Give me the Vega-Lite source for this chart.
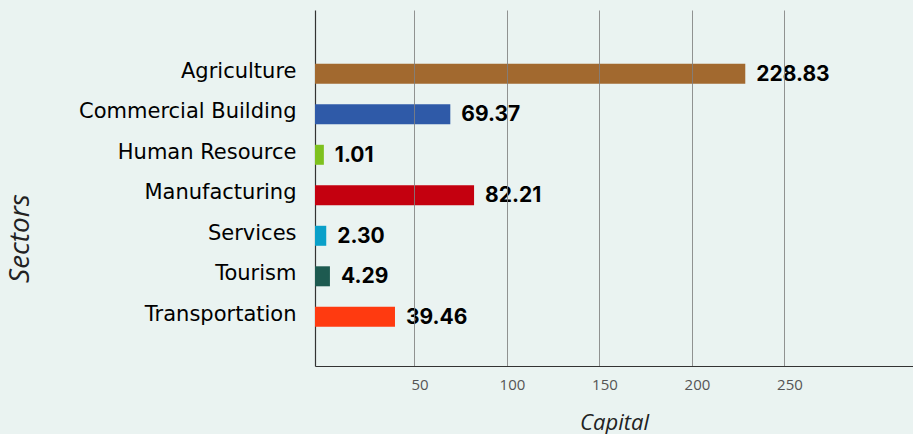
{
  "$schema": "https://vega.github.io/schema/vega-lite/v6.json",
  "autosize": "none",
  "width": 598,
  "height": 356,
  "padding": {"left": 315, "top": 10, "right": 0, "bottom": 68},
  "background": "#EAF3F1",
  "config": {
    "view": {"stroke": null},
    "font": "DejaVu Sans"
  },
  "data": {
    "values": [
      {"sector": "Agriculture", "capital": 228.83, "label": "228.83"},
      {"sector": "Commercial Building", "capital": 69.37, "label": "69.37"},
      {"sector": "Human Resource", "capital": 1.01, "label": "1.01"},
      {"sector": "Manufacturing", "capital": 82.21, "label": "82.21"},
      {"sector": "Services", "capital": 2.30, "label": "2.30"},
      {"sector": "Tourism", "capital": 4.29, "label": "4.29"},
      {"sector": "Transportation", "capital": 39.46, "label": "39.46"}
    ]
  },
  "encoding": {
    "y": {
      "field": "sector",
      "type": "nominal",
      "sort": null,
      "scale": {"paddingInner": 0.21, "paddingOuter": 1, "align": 0.59},
      "axis": {
        "title": "Sectors",
        "titleFont": "Open Sans",
        "titleFontStyle": "italic",
        "titleFontWeight": "normal",
        "titleFontSize": 28,
        "titleColor": "#222222",
        "titleAngle": -90,
        "titleX": -295,
        "titleY": 228,
        "titleAlign": "center",
        "titleBaseline": "middle",
        "labelFont": "DejaVu Sans",
        "labelFontSize": 21,
        "labelFontWeight": "normal",
        "labelColor": "#000000",
        "labelPadding": 19,
        "labelOffset": -2,
        "labelLimit": 320,
        "ticks": false,
        "domainColor": "#333333",
        "domainWidth": 1.2,
        "grid": false
      }
    },
    "x": {
      "field": "capital",
      "type": "quantitative",
      "scale": {"domain": [-3.78, 319.5], "nice": false, "zero": false},
      "axis": {
        "title": "Capital",
        "titleFont": "Open Sans",
        "titleFontStyle": "italic",
        "titleFontWeight": "normal",
        "titleFontSize": 22,
        "titleColor": "#222222",
        "titleY": 56,
        "titleBaseline": "middle",
        "values": [50, 100, 150, 200, 250],
        "labelFont": "Open Sans",
        "labelFontSize": 15,
        "labelColor": "#555555",
        "labelPadding": 11,
        "labelOffset": 5,
        "ticks": false,
        "domainColor": "#333333",
        "domainWidth": 1.2,
        "grid": true,
        "gridColor": "#808080",
        "gridOpacity": 0.85,
        "gridWidth": 1,
        "zindex": 1
      }
    }
  },
  "layer": [
    {
      "mark": {"type": "bar", "size": 20},
      "encoding": {
        "x2": {"datum": -3.78},
        "color": {
          "field": "sector",
          "type": "nominal",
          "legend": null,
          "scale": {
            "domain": ["Agriculture", "Commercial Building", "Human Resource", "Manufacturing", "Services", "Tourism", "Transportation"],
            "range": ["#A2692F", "#2F5AA8", "#7EC11E", "#C4000F", "#0AA0C9", "#1D5A50", "#FF3A10"]
          }
        }
      }
    },
    {
      "mark": {"type": "text", "align": "left", "baseline": "middle", "dx": 11, "dy": 1, "fontSize": 21, "fontWeight": "bold", "color": "#000000", "font": "Inter"},
      "encoding": {
        "text": {"field": "label", "type": "nominal"}
      }
    }
  ]
}
